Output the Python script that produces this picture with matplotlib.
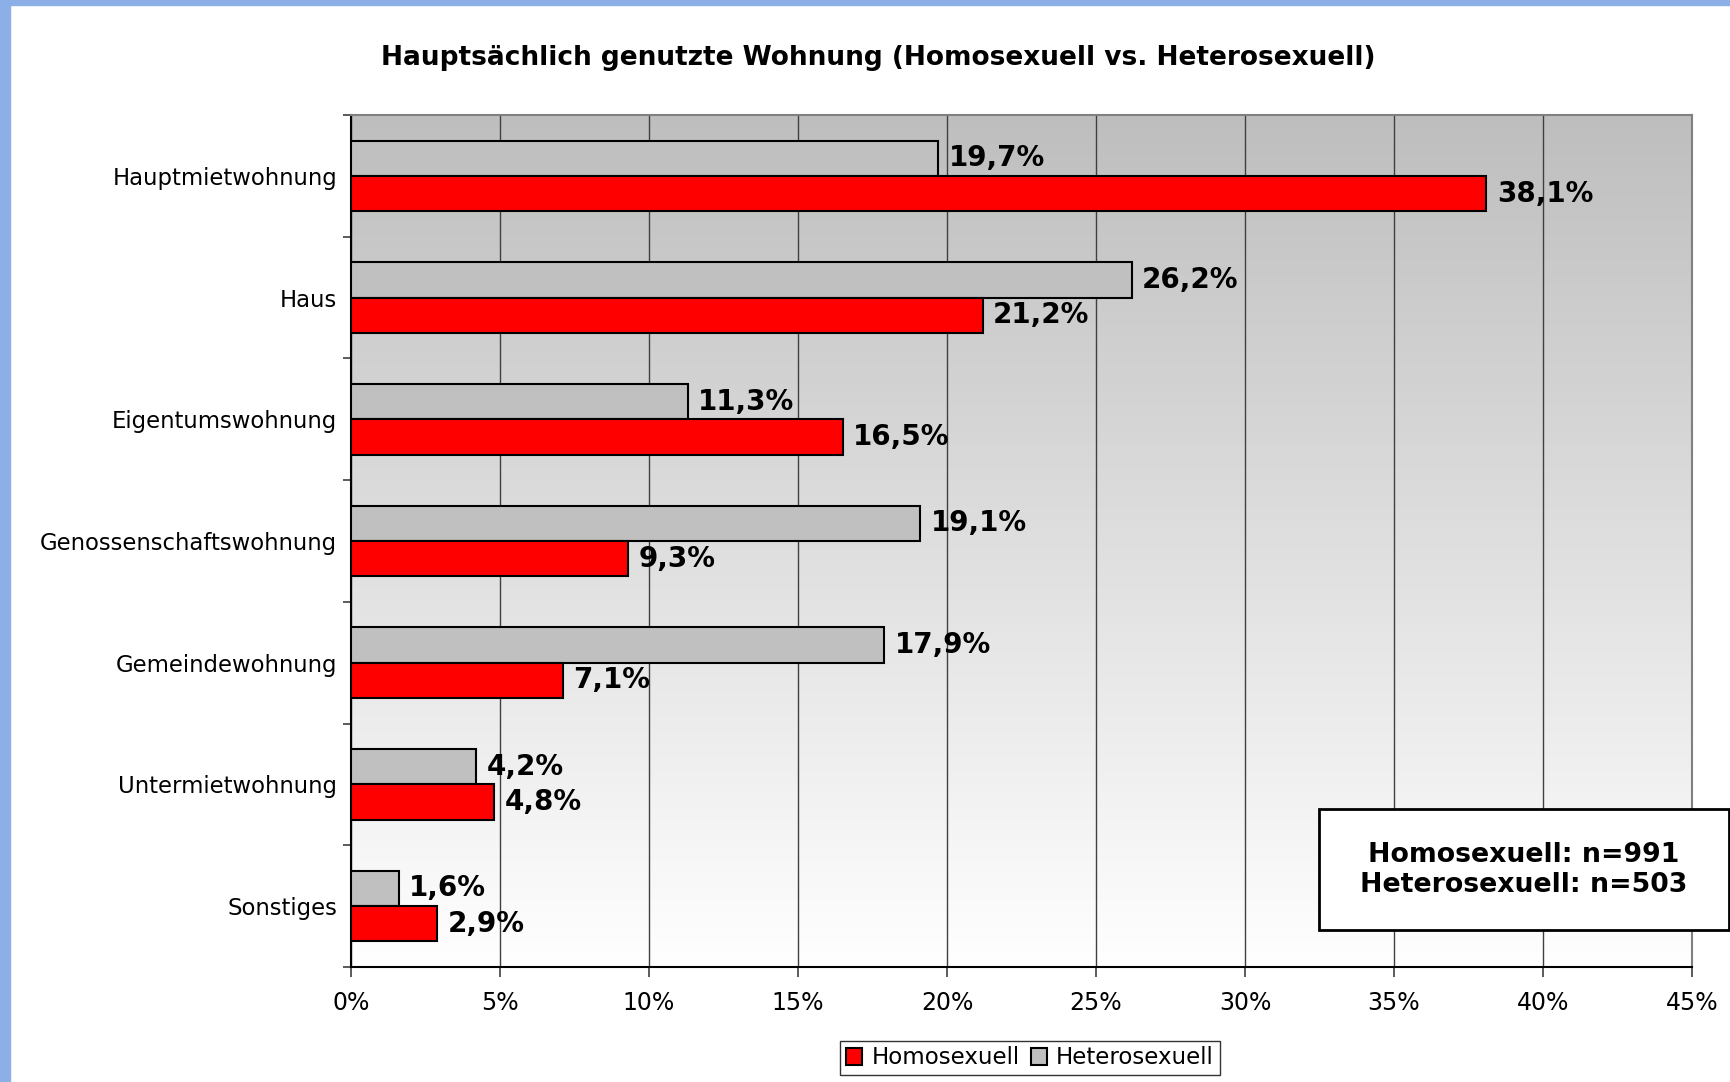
import matplotlib
matplotlib.use("Agg")
import matplotlib.pyplot as plt
import numpy as np
from matplotlib.patches import Rectangle

# data
categories = ["Hauptmietwohnung", "Haus", "Eigentumswohnung", "Genossenschaftswohnung",
              "Gemeindewohnung", "Untermietwohnung", "Sonstiges"]
homo = [38.1, 21.2, 16.5, 9.3, 7.1, 4.8, 2.9]
hetero = [19.7, 26.2, 11.3, 19.1, 17.9, 4.2, 1.6]
xticks = [0, 5, 10, 15, 20, 25, 30, 35, 40, 45]

plt.rcParams['font.family'] = ['DejaVu Sans']

W, H = 1731, 1082
fig = plt.figure(figsize=(W / 100, H / 100), dpi=100)
fig.patch.set_facecolor('white')

# blue frame at top and left
fig.patches.append(Rectangle((0, 1 - 5 / H), 1, 5 / H, transform=fig.transFigure,
                             color='#8DAFE8', zorder=0))
fig.patches.append(Rectangle((0, 0), 10 / W, 1, transform=fig.transFigure,
                             color='#8DAFE8', zorder=0))

ax = fig.add_axes([351 / W, 1 - 967 / H, (1692 - 351) / W, (967 - 115) / H])

# gray to white gradient background
grad = np.linspace(190, 255, 256).reshape(-1, 1) / 255.0
ax.imshow(np.dstack([grad, grad, grad]), extent=[0, 1, 0, 1], transform=ax.transAxes,
          aspect='auto', zorder=0, origin='upper')

y = np.arange(len(categories))
bh = 0.29
ax.barh(y - bh / 2, hetero, height=bh, color='#C0C0C0', edgecolor='black', linewidth=1.5,
        label='Heterosexuell', zorder=3)
ax.barh(y + bh / 2, homo, height=bh, color='#FF0000', edgecolor='black', linewidth=1.5,
        label='Homosexuell', zorder=3)

for i in range(len(categories)):
    ax.text(hetero[i] + 0.35, y[i] - bh / 2, f"{hetero[i]:.1f}%".replace('.', ','),
            va='center', ha='left', fontsize=20, fontweight='bold', zorder=4)
    ax.text(homo[i] + 0.35, y[i] + bh / 2, f"{homo[i]:.1f}%".replace('.', ','),
            va='center', ha='left', fontsize=20, fontweight='bold', zorder=4)

ax.set_xlim(0, 45)
ax.set_ylim(len(categories) - 0.5, -0.5)
ax.set_xticks(xticks)
ax.set_xticklabels([f"{t}%" for t in xticks])
ax.set_yticks(y)
ax.set_yticklabels(categories)
ax.set_yticks(np.arange(len(categories) + 1) - 0.5, minor=True)
ax.tick_params(axis='y', which='major', length=0, labelsize=16.4, pad=10)
ax.tick_params(axis='y', which='minor', length=6, width=1.2, color='#404040')
ax.tick_params(axis='x', length=7, width=1.2, color='#404040', labelsize=17, pad=10)
ax.xaxis.grid(True, color='#404040', linewidth=1, zorder=1)
ax.set_axisbelow(True)
for s in ['left', 'bottom']:
    ax.spines[s].set_color('black')
    ax.spines[s].set_linewidth(1.5)
for s in ['top', 'right']:
    ax.spines[s].set_color('#808080')
    ax.spines[s].set_linewidth(1.5)

fig.text(878 / W, 1 - 58 / H, "Hauptsächlich genutzte Wohnung (Homosexuell vs. Heterosexuell)",
         ha='center', va='center', fontsize=19, fontweight='bold')

# sample size box
fig.patches.append(Rectangle((1319 / W, 1 - 930 / H), (1729 - 1319) / W, (930 - 809) / H,
                             transform=fig.transFigure, facecolor='white', edgecolor='black',
                             linewidth=2, zorder=5))
fig.text(1524 / W, 1 - 870 / H, "Homosexuell: n=991\nHeterosexuell: n=503", ha='center',
         va='center', fontsize=19.3, fontweight='bold', linespacing=1.2, zorder=6)

handles, labels = ax.get_legend_handles_labels()
leg = fig.legend(handles[::-1], labels[::-1], loc='center', bbox_to_anchor=(1030 / W, 1 - 1058 / H),
                 ncol=2, fontsize=16.5, frameon=True, fancybox=False, edgecolor='black',
                 handlelength=0.7, handleheight=0.7, handletextpad=0.4, columnspacing=0.5,
                 borderpad=0.25, borderaxespad=0)
leg.get_frame().set_linewidth(1)

fig.savefig("out.png", dpi=100)
